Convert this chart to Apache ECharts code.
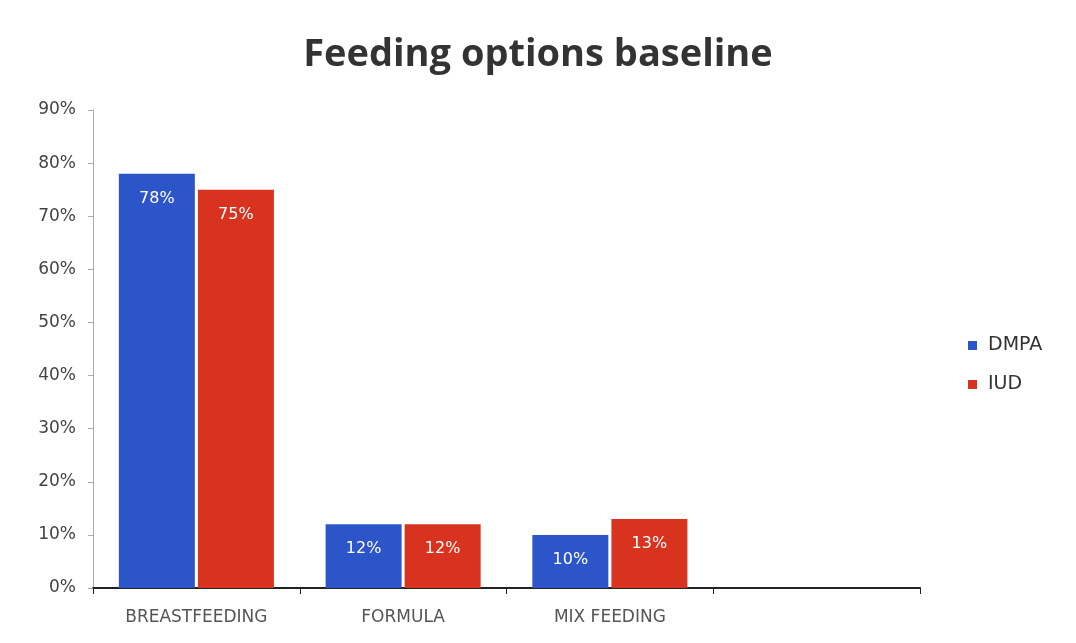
<!DOCTYPE html>
<html>
<head>
<meta charset="utf-8">
<script src="https://cdn.jsdelivr.net/npm/echarts@6/dist/echarts.min.js"></script>
<style>
  html, body { margin: 0; padding: 0; background: #fff; }
  #chart { width: 1076px; height: 643px; }
</style>
</head>
<body>
<div id="chart"></div>
<script>
// categories (the last slot is empty in the original)
const categories = ['BREASTFEEDING', 'FORMULA', 'MIX FEEDING', ''];
const dmpaValues = [78, 12, 10, null];
const iudValues = [75, 12, 13, null];
const yTicks = [0, 10, 20, 30, 40, 50, 60, 70, 80, 90];

const chart = echarts.init(document.getElementById('chart'));

const labelStyle = {
    show: true,
    position: 'insideTop',
    distance: 17,
    color: '#fff',
    fontSize: 16,
    fontFamily: 'DejaVu Sans',
    formatter: '{c}%'
};

const option = {
    backgroundColor: '#fff',
    title: {
        text: 'Feeding options baseline',
        left: 'center',
        top: 31,
        textStyle: {
            fontFamily: 'Open Sans',
            fontWeight: 'bold',
            fontSize: 38,
            color: '#333'
        }
    },
    legend: {
        orient: 'vertical',
        left: 963,
        top: 331,
        itemWidth: 9,
        itemHeight: 9,
        itemGap: 20,
        icon: 'rect',
        textStyle: { fontFamily: 'DejaVu Sans', fontSize: 19, color: '#333', padding: [0, 0, 0, 6] }
    },
    grid: { left: 93, right: 156, top: 110, bottom: 55, containLabel: false },
    xAxis: {
        type: 'category',
        data: categories,
        axisLine: { lineStyle: { color: '#222', width: 2 } },
        axisTick: { show: true, length: 6, lineStyle: { color: '#222' } },
        axisLabel: { color: '#555', fontSize: 17, fontFamily: 'DejaVu Sans', margin: 21 }
    },
    yAxis: {
        type: 'value',
        min: yTicks[0],
        max: yTicks[yTicks.length - 1],
        interval: 10,
        axisLine: { show: true, lineStyle: { color: '#aaa' } },
        axisTick: { show: true, length: 5, lineStyle: { color: '#aaa' } },
        splitLine: { show: false },
        axisLabel: { formatter: '{value}%', color: '#444', fontSize: 17, fontFamily: 'DejaVu Sans', margin: 17 }
    },
    series: [
        {
            name: 'DMPA',
            type: 'bar',
            data: dmpaValues,
            barGap: '4%',
            barCategoryGap: '25%',
            itemStyle: { color: '#2c55c9' },
            label: labelStyle
        },
        {
            name: 'IUD',
            type: 'bar',
            data: iudValues,
            itemStyle: { color: '#d7331f' },
            label: labelStyle
        }
    ]
};

chart.setOption(option);
</script>
</body>
</html>
